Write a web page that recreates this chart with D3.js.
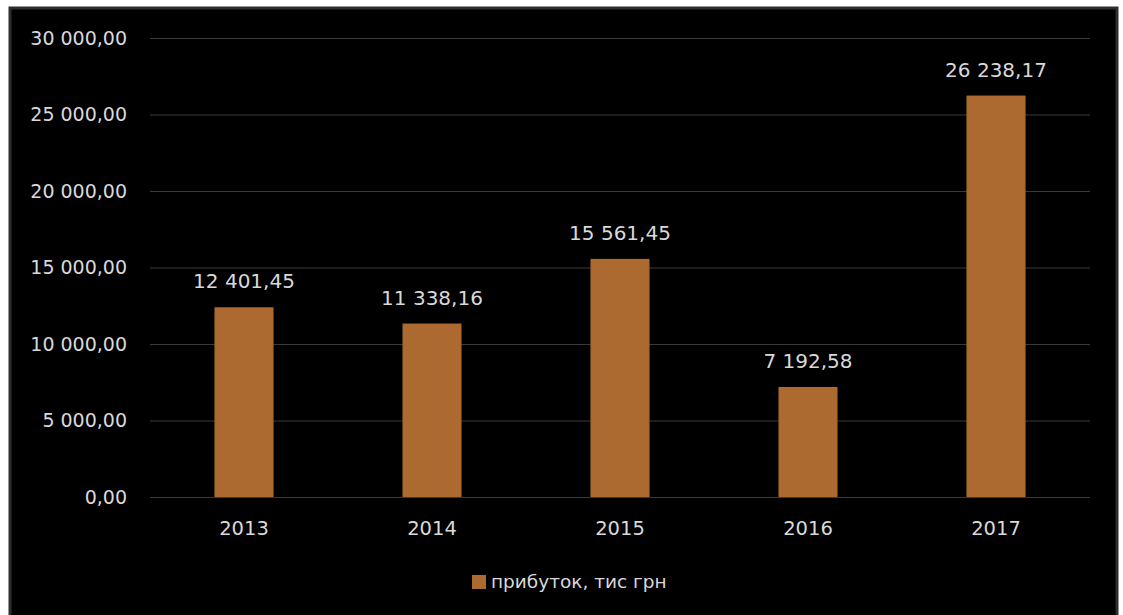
<!DOCTYPE html>
<html>
<head>
<meta charset="utf-8">
<script src="https://cdn.jsdelivr.net/npm/d3@7"></script>
<style>
    html, body { margin: 0; padding: 0; background: #fff; }
    svg { display: block; font-family: "DejaVu Sans", sans-serif; }
</style>
</head>
<body>
<div id="chart"></div>
<script>
// Data
const years = ['2013', '2014', '2015', '2016', '2017'];
const profit = [12401.45, 11338.16, 15561.45, 7192.58, 26238.17];
const yTicks = [0, 5000, 10000, 15000, 20000, 25000, 30000];
const seriesName = 'прибуток, тис грн';

const W = 1123, H = 615;
const PLOT = { left: 150, right: 1090, top: 38, bottom: 497 };
const COLORS = {
    bar: '#AC6A31',
    text: '#D9D9D9',
    grid: '#3A3A3A',
    frame: '#2E2E2E'
};

const ua = d3.formatLocale({ decimal: ',', thousands: '\u00a0', grouping: [3] });
const fmt = ua.format(',.2f');

const svg = d3.select('#chart')
    .append('svg')
    .attr('width', W)
    .attr('height', H);

// dark panel
svg.append('rect')
    .attr('x', 10).attr('y', 8)
    .attr('width', 1107).attr('height', H)
    .attr('fill', '#000')
    .attr('stroke', COLORS.frame)
    .attr('stroke-width', 3);

// Scales
const x = d3.scaleBand()
    .domain(years)
    .range([PLOT.left, PLOT.right])
    .paddingInner(0.686)
    .paddingOuter(0.343);

const y = d3.scaleLinear()
    .domain([0, 30000])
    .range([PLOT.bottom, PLOT.top]);

// Gridlines + y labels
const yAxis = svg.append('g')
    .attr('transform', `translate(${PLOT.left},0)`)
    .call(d3.axisLeft(y)
        .tickValues(yTicks)
        .tickSize(-(PLOT.right - PLOT.left))
        .tickPadding(23)
        .tickFormat(fmt));
yAxis.select('.domain').remove();
yAxis.selectAll('.tick line')
    .attr('stroke', COLORS.grid)
    .attr('stroke-width', 1.2);
yAxis.selectAll('.tick text')
    .attr('fill', COLORS.text)
    .attr('font-size', 19)
    .attr('font-family', '"DejaVu Sans", sans-serif');

// X labels
const xAxis = svg.append('g')
    .attr('transform', `translate(0,${PLOT.bottom})`)
    .call(d3.axisBottom(x).tickSize(0).tickPadding(24));
xAxis.select('.domain').remove();
xAxis.selectAll('.tick text')
    .attr('fill', COLORS.text)
    .attr('font-size', 19.5)
    .attr('font-family', '"DejaVu Sans", sans-serif');

// Bars
svg.append('g')
    .selectAll('rect')
    .data(profit)
    .enter()
    .append('rect')
    .attr('x', (d, i) => x(years[i]))
    .attr('y', d => y(d))
    .attr('width', x.bandwidth())
    .attr('height', d => y(0) - y(d))
    .attr('fill', COLORS.bar);

// Value labels
svg.append('g')
    .selectAll('text')
    .data(profit)
    .enter()
    .append('text')
    .attr('x', (d, i) => x(years[i]) + x.bandwidth() / 2)
    .attr('y', d => y(d) - 19)
    .attr('text-anchor', 'middle')
    .attr('fill', COLORS.text)
    .attr('font-size', 20)
    .text(d => fmt(d));

// Legend
const legend = svg.append('g').attr('transform', 'translate(472,575)');
legend.append('rect')
    .attr('width', 14).attr('height', 14)
    .attr('fill', COLORS.bar);
legend.append('text')
    .attr('x', 19).attr('y', 13)
    .attr('fill', COLORS.text)
    .attr('font-size', 18.5)
    .text(seriesName);
</script>
</body>
</html>
